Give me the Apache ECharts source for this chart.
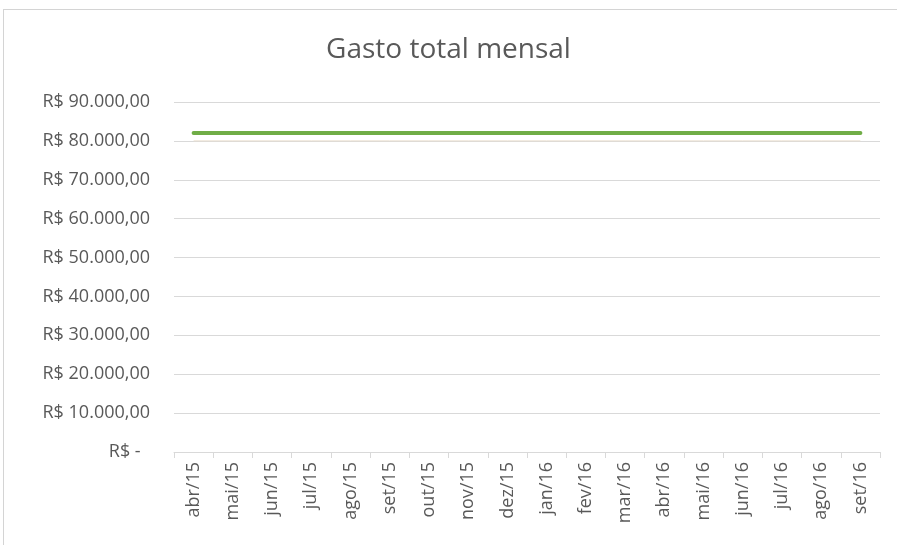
<!DOCTYPE html>
<html>
<head>
<meta charset="utf-8">
<script src="https://cdn.jsdelivr.net/npm/echarts@6/dist/echarts.min.js"></script>
<style>
  html, body { margin: 0; padding: 0; background: #fff; }
  #frame { position: absolute; left: 3px; top: 9px; width: 900px; height: 540px; border-top: 1px solid #d4d4d4; border-left: 1px solid #d4d4d4; }
  #chart { position: absolute; left: 0; top: 0; width: 897px; height: 545px; }
</style>
</head>
<body>
<div id="frame"></div>
<div id="chart"></div>
<script>
// meses
const months = ['abr/15','mai/15','jun/15','jul/15','ago/15','set/15','out/15','nov/15','dez/15',
  'jan/16','fev/16','mar/16','abr/16','mai/16','jun/16','jul/16','ago/16','set/16'];
// gasto total por mês
const gastoTotal = [82000,82000,82000,82000,82000,82000,82000,82000,82000,
  82000,82000,82000,82000,82000,82000,82000,82000,82000];
// linha clara por baixo (quase escondida na grade de 80.000)
const referencia = [80000,80000,80000,80000,80000,80000,80000,80000,80000,
  80000,80000,80000,80000,80000,80000,80000,80000,80000];

function moeda(v){
  if(v === 0) return 'R$ -  ';
  return 'R$ ' + v.toLocaleString('pt-BR', {minimumFractionDigits: 2, maximumFractionDigits: 2});
}

const chart = echarts.init(document.getElementById('chart'));
chart.setOption({
  animation: false,
  title: {
    text: 'Gasto total mensal',
    left: 'center',
    top: 31,
    textStyle: { color: '#595959', fontSize: 28, fontWeight: 'normal', fontFamily: 'Open Sans' }
  },
  grid: { left: 174, right: 17, top: 102, bottom: 93, containLabel: false },
  xAxis: {
    type: 'category',
    data: months,
    boundaryGap: true,
    axisLine: { lineStyle: { color: '#d9d9d9' } },
    axisTick: { show: true, length: 6, lineStyle: { color: '#d9d9d9' } },
    axisLabel: { rotate: 90, color: '#595959', fontSize: 18, fontFamily: 'Open Sans', margin: 10 }
  },
  yAxis: {
    type: 'value',
    min: 0,
    max: 90000,
    interval: 10000,
    axisLine: { show: false },
    axisTick: { show: false },
    splitLine: { lineStyle: { color: '#d9d9d9' } },
    axisLabel: { color: '#595959', fontSize: 18, fontFamily: 'Open Sans', margin: 24, formatter: moeda }
  },
  series: [
    {
      name: 'Referência',
      type: 'line',
      data: referencia,
      symbol: 'none',
      lineStyle: { color: '#eadfcf', width: 1 }
    },
    {
      name: 'Gasto total',
      type: 'line',
      data: gastoTotal,
      symbol: 'none',
      lineStyle: { color: '#70ad47', width: 4, cap: 'round' }
    }
  ]
});
</script>
</body>
</html>
